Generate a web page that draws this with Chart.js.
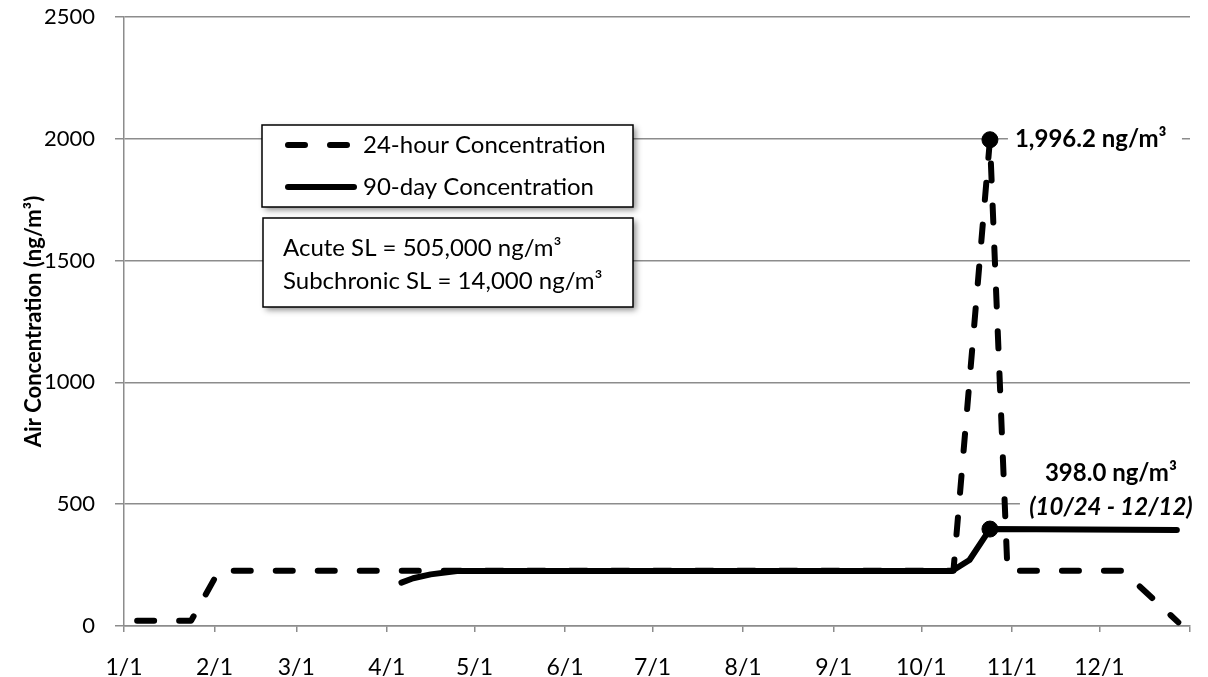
<!DOCTYPE html>
<html>
<head>
<meta charset="utf-8">
<script src="https://cdn.jsdelivr.net/npm/chart.js@4/dist/chart.umd.min.js"></script>
<style>
html,body{margin:0;padding:0;background:#fff;}
#wrap{width:1208px;height:677px;position:relative;}
</style>
</head>
<body>
<div id="wrap"><canvas id="chart"></canvas></div>
<script>
// x values are days since 1/1
const monthStarts = [0,31,59,90,120,151,181,212,243,273,304,334,365];
const monthLabels = ["1/1","2/1","3/1","4/1","5/1","6/1","7/1","8/1","9/1","10/1","11/1","12/1",""];

const hour24Days   = [4.5, 23, 32.5, 284, 296.5, 302.5, 342, 361];
const hour24Values = [22, 22, 227, 227, 1996.2, 227, 227, 15];

const day90Days   = [95, 99, 105, 114, 283.5, 289.5, 296.5, 360.5];
const day90Values = [178, 196, 212, 226, 226, 271, 398.0, 394];

const peakDays   = [296.5, 296.5];
const peakValues = [1996.2, 398.0];

const yTicks = [0, 500, 1000, 1500, 2000, 2500];

const FONT = "Lato";
const GRID = "#8c8c8c";

const toPoints = (xs, ys) => xs.map((x, i) => ({x: x, y: ys[i]}));

const overlay = {
  id: "overlay",
  afterDatasetsDraw(chart) {
    const ctx = chart.ctx;
    const xs = chart.scales.x, ys = chart.scales.y;
    ctx.save();

    // peak label
    const px = xs.getPixelForValue(peakDays[0]);
    const py = ys.getPixelForValue(peakValues[0]);
    ctx.fillStyle = "#fff";
    ctx.fillRect(px + 18, py - 16, 174, 32);
    ctx.fillStyle = "#000";
    ctx.font = "bold 24px " + FONT;
    ctx.textBaseline = "middle";
    ctx.textAlign = "left";
    ctx.fillText("1,996.2 ng/m³", px + 25, py);

    // 90-day label
    const qx = xs.getPixelForValue(peakDays[1]);
    const qy = ys.getPixelForValue(peakValues[1]);
    ctx.fillStyle = "#fff";
    ctx.fillRect(qx + 30, qy - 75, 190, 66);
    ctx.fillStyle = "#000";
    ctx.textAlign = "center";
    ctx.font = "bold 24px " + FONT;
    ctx.fillText("398.0 ng/m³", qx + 121, qy - 56);
    ctx.font = "italic bold 24px " + FONT;
    ctx.fillText("(10/24 - 12/12)", qx + 121, qy - 22);

    // legend box and limits box
    const boxes = [[262, 125, 371, 82], [263, 218, 370, 89]];
    boxes.forEach(b => {
      ctx.save();
      ctx.shadowColor = "rgba(0,0,0,0.45)";
      ctx.shadowBlur = 6;
      ctx.shadowOffsetX = 3;
      ctx.shadowOffsetY = 3;
      ctx.fillStyle = "#fff";
      ctx.fillRect(b[0], b[1], b[2], b[3]);
      ctx.restore();
      ctx.strokeStyle = "#000";
      ctx.lineWidth = 1.5;
      ctx.strokeRect(b[0], b[1], b[2], b[3]);
    });

    ctx.lineWidth = 6;
    ctx.lineCap = "round";
    ctx.strokeStyle = "#000";
    ctx.setLineDash([17, 25]);
    ctx.beginPath(); ctx.moveTo(288, 145); ctx.lineTo(347, 145); ctx.stroke();
    ctx.setLineDash([]);
    ctx.beginPath(); ctx.moveTo(288, 187); ctx.lineTo(354, 187); ctx.stroke();

    ctx.fillStyle = "#000";
    ctx.textAlign = "left";
    ctx.font = "24px " + FONT;
    ctx.fillText("24-hour Concentration", 363, 145);
    ctx.fillText("90-day Concentration", 363, 187);
    ctx.fillText("Acute SL = 505,000 ng/m³", 283, 248);
    ctx.fillText("Subchronic SL = 14,000 ng/m³", 283, 281);

    ctx.restore();
  }
};

new Chart(document.getElementById("chart"), {
  type: "line",
  data: {
    datasets: [
      {
        label: "24-hour Concentration",
        data: toPoints(hour24Days, hour24Values),
        borderColor: "#000",
        borderWidth: 6,
        borderDash: [17, 25],
        borderCapStyle: "round",
        borderJoinStyle: "round",
        pointRadius: 0,
        tension: 0,
        order: 3
      },
      {
        label: "90-day Concentration",
        data: toPoints(day90Days, day90Values),
        borderColor: "#000",
        borderWidth: 6,
        borderCapStyle: "round",
        borderJoinStyle: "round",
        pointRadius: 0,
        tension: 0,
        order: 2
      },
      {
        label: "peaks",
        data: toPoints(peakDays, peakValues),
        showLine: false,
        pointRadius: 8,
        pointBackgroundColor: "#000",
        pointBorderColor: "#000",
        order: 1
      }
    ]
  },
  options: {
    responsive: true,
    maintainAspectRatio: false,
    animation: false,
    devicePixelRatio: 1,
    layout: {padding: {top: 17, right: 18, left: 0, bottom: 0}},
    plugins: {legend: {display: false}, tooltip: {enabled: false}},
    scales: {
      x: {
        type: "linear",
        min: 0,
        max: 365,
        afterBuildTicks: s => { s.ticks = monthStarts.map(v => ({value: v})); },
        afterFit: s => { s.height = 51; s.paddingLeft = 0; s.paddingRight = 0; },
        grid: {drawOnChartArea: false, drawTicks: true, tickLength: 6, color: GRID, lineWidth: 1.5},
        border: {color: GRID, width: 1.5},
        ticks: {
          autoSkip: false,
          maxRotation: 0,
          padding: 22,
          color: "#000",
          font: {family: FONT, size: 23},
          callback: (v, i) => monthLabels[i]
        }
      },
      y: {
        min: 0,
        max: 2500,
        afterBuildTicks: s => { s.ticks = yTicks.map(v => ({value: v})); },
        afterFit: s => { s.width = 124; s.paddingTop = 0; s.paddingBottom = 0; },
        grid: {color: GRID, lineWidth: 1.5, tickLength: 9},
        border: {color: GRID, width: 1.5},
        ticks: {padding: 20, color: "#000", font: {family: FONT, size: 22}, callback: v => String(v)},
        title: {
          display: true,
          text: "Air Concentration (ng/m³)",
          color: "#000",
          font: {family: FONT, size: 22, weight: "bold"},
          padding: {top: 21, bottom: 0}
        }
      }
    }
  },
  plugins: [overlay]
});
</script>
</body>
</html>
